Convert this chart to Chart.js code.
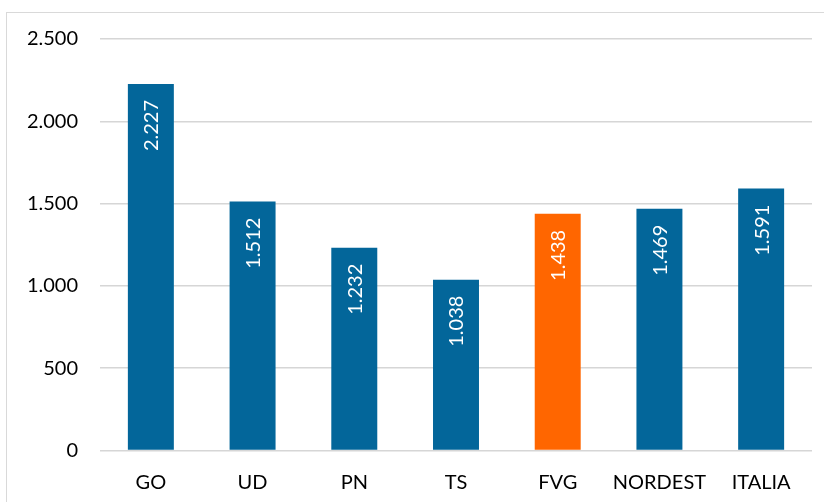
<!DOCTYPE html>
<html>
<head>
<meta charset="utf-8">
<script src="https://cdn.jsdelivr.net/npm/chart.js@4"></script>
<style>
  html, body { margin: 0; padding: 0; background: #fff; overflow: hidden; }
  #wrap { position: relative; width: 824px; height: 502px; }
  #frame { position: absolute; left: 6px; top: 12px; width: 840px; height: 520px; border: 1px solid #d9d9d9; box-sizing: border-box; }
  canvas { position: absolute; left: 0; top: 0; }
</style>
</head>
<body>
<div id="wrap">
  <div id="frame"></div>
  <canvas id="c" width="824" height="502"></canvas>
</div>
<script>
const categories = ['GO', 'UD', 'PN', 'TS', 'FVG', 'NORDEST', 'ITALIA'];
const values = [2227, 1512, 1232, 1038, 1438, 1469, 1591];
const barColors = ['#03669a', '#03669a', '#03669a', '#03669a', '#ff6600', '#03669a', '#03669a'];
const yTicks = [0, 500, 1000, 1500, 2000, 2500];

function fmt(v) {
  const s = String(Math.round(v));
  return s.replace(/\B(?=(\d{3})+(?!\d))/g, '.');
}

const FONT = 'Lato, "Open Sans", sans-serif';

const labelPlugin = {
  id: 'barLabels',
  afterDatasetsDraw(chart) {
    const ctx = chart.ctx;
    const meta = chart.getDatasetMeta(0);
    ctx.save();
    ctx.fillStyle = '#ffffff';
    ctx.font = '20px ' + FONT;
    ctx.textAlign = 'right';
    ctx.textBaseline = 'middle';
    meta.data.forEach((bar, i) => {
      ctx.save();
      ctx.translate(bar.x, bar.y + 16);
      ctx.rotate(-Math.PI / 2);
      ctx.fillText(fmt(values[i]), 0, 1);
      ctx.restore();
    });
    ctx.restore();
  }
};

new Chart(document.getElementById('c'), {
  type: 'bar',
  data: {
    labels: categories,
    datasets: [{
      data: values,
      backgroundColor: barColors,
      borderWidth: 0,
      categoryPercentage: 1,
      barPercentage: 0.452
    }]
  },
  options: {
    responsive: false,
    animation: false,
    events: [],
    layout: { padding: { top: 39, right: 12, left: 0, bottom: 0 } },
    plugins: { legend: { display: false }, tooltip: { enabled: false }, title: { display: false } },
    scales: {
      x: {
        grid: { display: false },
        border: { display: false },
        ticks: { color: '#000', font: { family: FONT, size: 20 }, padding: 12, maxRotation: 0, autoSkip: false },
        afterFit(scale) { scale.height = 51.5; }
      },
      y: {
        min: 0, max: 2500,
        afterBuildTicks(scale) { scale.ticks = yTicks.map(v => ({ value: v })); },
        grid: { color: '#d6d6d6', lineWidth: 1.5, drawTicks: false },
        border: { display: false },
        ticks: { color: '#000', font: { family: FONT, size: 20 }, padding: 22, callback: v => fmt(v) },
        afterFit(scale) { scale.width = 100; }
      }
    }
  },
  plugins: [labelPlugin]
});
</script>
</body>
</html>
